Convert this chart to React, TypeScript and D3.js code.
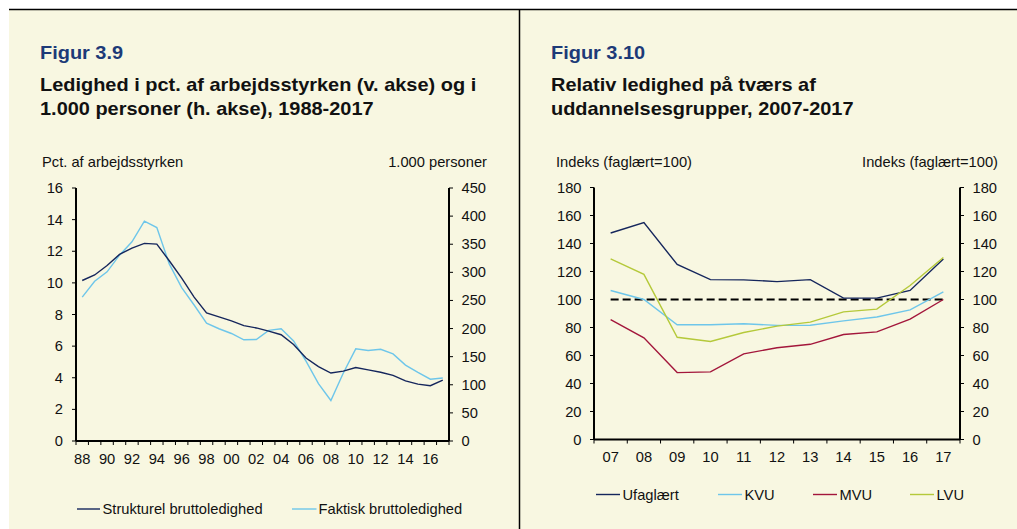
import React from "react";
import * as d3 from "d3";

const years1 = d3.range(1988, 2018).map(String);
const yearLabels1 = ["88","90","92","94","96","98","00","02","04","06","08","10","12","14","16"];
const strukturel = [10.15,10.5,11.1,11.8,12.2,12.5,12.45,11.4,10.3,9.1,8.1,7.85,7.6,7.3,7.15,6.95,6.72,6.1,5.25,4.7,4.3,4.42,4.65,4.5,4.35,4.15,3.8,3.6,3.5,3.85];
const faktisk = [9.1,10.1,10.7,11.75,12.6,13.9,13.5,11.2,9.7,8.6,7.45,7.1,6.8,6.4,6.42,7.0,7.1,6.33,5.05,3.63,2.56,4.3,5.83,5.72,5.8,5.51,4.8,4.34,3.91,3.98];
const leftTicks1 = [0,2,4,6,8,10,12,14,16];
const rightTicks1 = [0,50,100,150,200,250,300,350,400,450];

const years2 = ["07","08","09","10","11","12","13","14","15","16","17"];
const ufaglaert = [147.5,155,125,114.2,114,112.8,114.2,101,101,106.5,129];
const kvu = [106.4,100,82,82,82.7,81.5,81.6,84.7,87.5,92.6,105.5];
const mvu = [85.7,72.6,47.8,48.3,61.2,65.5,68,75,76.9,86,100];
const lvu = [129,118,73,70,76.4,81,83.8,91.2,93.1,110,130];
const ref100 = years2.map(() => 100);
const ticks2 = [0,20,40,60,80,100,120,140,160,180];

const NAVY = "#15265c";
const LBLUE = "#6ec6ea";
const RED = "#a3163b";
const GREEN = "#b5c93a";
const BG = "#f8f7e1";
const FONT = "'Liberation Sans', Arial, Helvetica, sans-serif";
const SX = 1.05;

type TP = { x: number; y: number; size?: number; bold?: boolean; fill?: string; anchor?: string; children: React.ReactNode };
function T({ x, y, size = 14, bold = false, fill = "#111", anchor = "start", children }: TP) {
  return (
    <text transform={`translate(${x},${y}) scale(${SX},1)`} fontSize={size} fontWeight={bold ? "bold" : "normal"} fill={fill} textAnchor={anchor as any}>
      {children}
    </text>
  );
}

function Chart1() {
  const x0 = 76, x1 = 449, y0 = 441, y1 = 188;
  const band = d3.scaleBand().domain(years1).range([x0, x1]);
  const y = d3.scaleLinear().domain([0, 16]).range([y0, y1]);
  const yR = d3.scaleLinear().domain([0, 450]).range([y0, y1]);
  const line = d3.line<number>().x((_, i) => band(years1[i])! + band.bandwidth() / 2).y(d => y(d));
  const bounds = years1.map(yy => band(yy)!).concat([x1]);
  return (
    <g fontFamily={FONT}>
      <T x={40} y={59} size={19} bold fill="#1d3a78">Figur 3.9</T>
      <T x={40} y={90.5} size={19} bold>Ledighed i pct. af arbejdsstyrken (v. akse) og i</T>
      <T x={40} y={115} size={19} bold>1.000 personer (h. akse), 1988-2017</T>
      <T x={42} y={166.5}>Pct. af arbejdsstyrken</T>
      <T x={487} y={166.5} anchor="end">1.000 personer</T>
      {leftTicks1.map(t => (
        <g key={"l" + t}>
          <line x1={x0 - 4} x2={x0} y1={y(t)} y2={y(t)} stroke="#000" strokeWidth={1} />
          <T x={63} y={y(t) + 5} anchor="end">{t}</T>
        </g>
      ))}
      {rightTicks1.map(t => (
        <g key={"r" + t}>
          <line x1={x1} x2={x1 + 4} y1={yR(t)} y2={yR(t)} stroke="#000" strokeWidth={1} />
          <T x={461.5} y={yR(t) + 5}>{t}</T>
        </g>
      ))}
      {bounds.map((b, i) => (
        <line key={"xt" + i} x1={b} x2={b} y1={y0} y2={y0 + 4} stroke="#000" strokeWidth={1} />
      ))}
      {yearLabels1.map((l, i) => (
        <T key={"xl" + l} x={band(years1[i * 2])! + band.bandwidth() / 2} y={464} anchor="middle">{l}</T>
      ))}
      <line x1={x0} x2={x0} y1={y1} y2={y0} stroke="#000" strokeWidth={2} />
      <line x1={x1} x2={x1} y1={y1} y2={y0} stroke="#000" strokeWidth={2} />
      <line x1={x0} x2={x1} y1={y0} y2={y0} stroke="#000" strokeWidth={2} />
      <path d={line(faktisk)!} fill="none" stroke={LBLUE} strokeWidth={1.4} />
      <path d={line(strukturel)!} fill="none" stroke={NAVY} strokeWidth={1.4} />
      <line x1={77} x2={100} y1={509} y2={509} stroke={NAVY} strokeWidth={1.4} />
      <T x={102.5} y={514}>Strukturel bruttoledighed</T>
      <line x1={292} x2={316.5} y1={509} y2={509} stroke={LBLUE} strokeWidth={1.4} />
      <T x={318.5} y={514}>Faktisk bruttoledighed</T>
    </g>
  );
}

function Chart2() {
  const x0 = 594, x1 = 960, y0 = 439.5, y1 = 187.5;
  const band = d3.scaleBand().domain(years2).range([x0, x1]);
  const y = d3.scaleLinear().domain([0, 180]).range([y0, y1]);
  const line = d3.line<number>().x((_, i) => band(years2[i])! + band.bandwidth() / 2).y(d => y(d));
  const bounds = years2.map(yy => band(yy)!).concat([x1]);
  const series = [
    { name: "Ufaglært", data: ufaglaert, color: NAVY, lx: 596 },
    { name: "KVU", data: kvu, color: LBLUE, lx: 718 },
    { name: "MVU", data: mvu, color: RED, lx: 813 },
    { name: "LVU", data: lvu, color: GREEN, lx: 910 },
  ];
  return (
    <g fontFamily={FONT}>
      <T x={551} y={59} size={19} bold fill="#1d3a78">Figur 3.10</T>
      <T x={551} y={90.5} size={19} bold>Relativ ledighed på tværs af</T>
      <T x={551} y={115} size={19} bold>uddannelsesgrupper, 2007-2017</T>
      <T x={556} y={166.5}>Indeks (faglært=100)</T>
      <T x={998} y={166.5} anchor="end">Indeks (faglært=100)</T>
      {ticks2.map(t => (
        <g key={"t" + t}>
          <line x1={x0 - 4} x2={x0} y1={y(t)} y2={y(t)} stroke="#000" strokeWidth={1} />
          <T x={581.5} y={y(t) + 5} anchor="end">{t}</T>
          <line x1={x1} x2={x1 + 4} y1={y(t)} y2={y(t)} stroke="#000" strokeWidth={1} />
          <T x={972.5} y={y(t) + 5}>{t}</T>
        </g>
      ))}
      {bounds.map((b, i) => (
        <line key={"xt" + i} x1={b} x2={b} y1={y0} y2={y0 + 4} stroke="#000" strokeWidth={1} />
      ))}
      {years2.map(l => (
        <T key={"xl" + l} x={band(l)! + band.bandwidth() / 2} y={462} anchor="middle">{l}</T>
      ))}
      <line x1={x0} x2={x0} y1={y1} y2={y0} stroke="#000" strokeWidth={2} />
      <line x1={x1} x2={x1} y1={y1} y2={y0} stroke="#000" strokeWidth={2} />
      <line x1={x0} x2={x1} y1={y0} y2={y0} stroke="#000" strokeWidth={2} />
      <path d={line(ref100)!} fill="none" stroke="#000" strokeWidth={2} strokeDasharray="8,4" />
      {series.map(s => (
        <path key={s.name} d={line(s.data)!} fill="none" stroke={s.color} strokeWidth={1.4} />
      ))}
      {series.map(s => (
        <g key={"lg" + s.name}>
          <line x1={s.lx} x2={s.lx + 24} y1={494.5} y2={494.5} stroke={s.color} strokeWidth={1.4} />
          <T x={s.lx + 26.5} y={499.5}>{s.name}</T>
        </g>
      ))}
    </g>
  );
}

export default function App() {
  return (
    <svg width={1017} height={529} style={{ position: "absolute", left: 0, top: 0 }}>
      <rect x={0} y={0} width={1017} height={529} fill="#fff" />
      <rect x={9} y={9} width={1008} height={520} fill={BG} />
      <line x1={9} x2={1017} y1={9.5} y2={9.5} stroke="#000" strokeWidth={1.5} />
      <line x1={519.5} x2={519.5} y1={9} y2={529} stroke="#000" strokeWidth={1.5} />
      <Chart1 />
      <Chart2 />
    </svg>
  );
}
